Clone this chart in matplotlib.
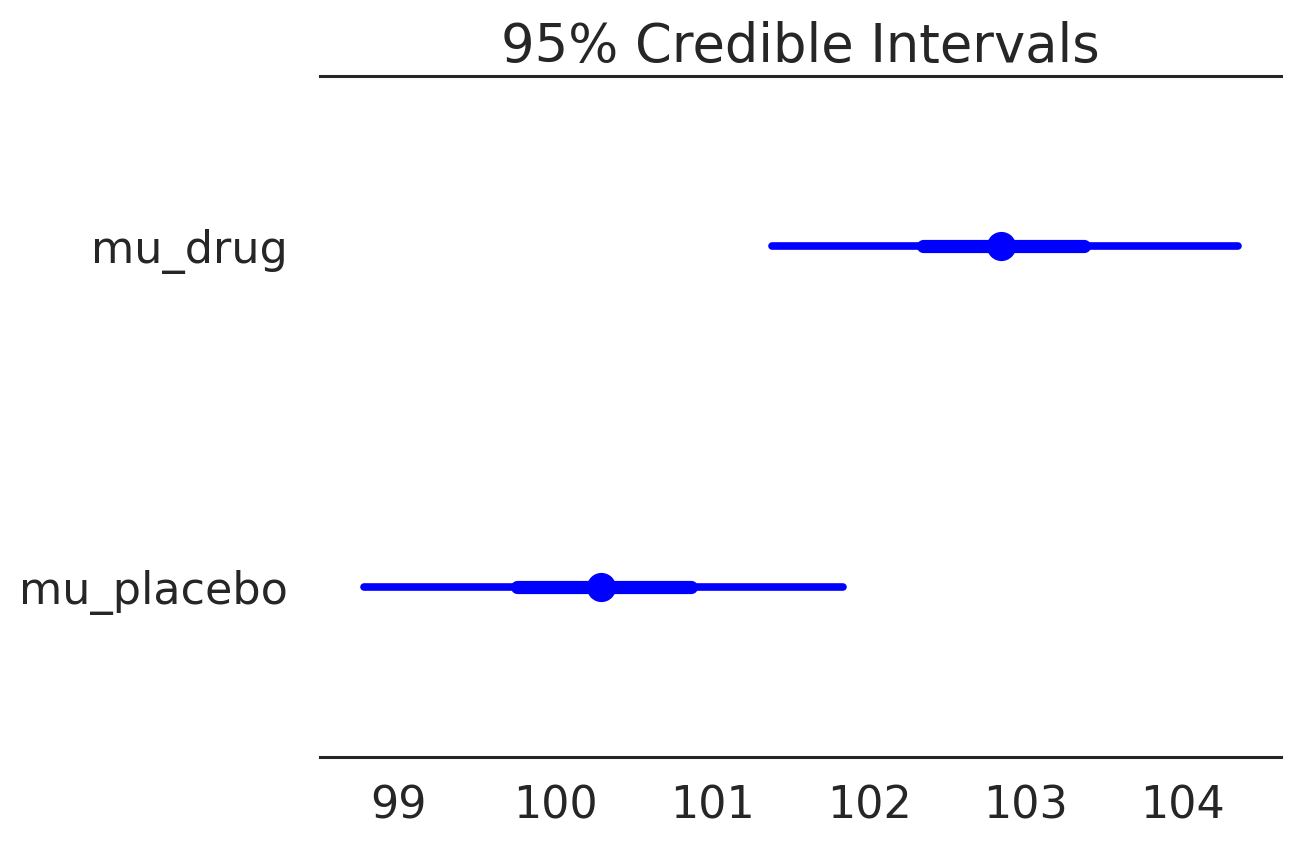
import matplotlib
matplotlib.use("Agg")
import matplotlib.pyplot as plt

labels = ["mu_placebo", "mu_drug"]
hdi95_low = [98.78, 101.38]
hdi95_high = [101.83, 104.35]
iqr_low = [99.75, 102.34]
iqr_high = [100.86, 103.37]
medians = [100.29, 102.84]
xticks = [99, 100, 101, 102, 103, 104]

fig = plt.figure(figsize=(12.99, 8.51), dpi=100)
ax = fig.add_axes([0.2463, 0.1105, 0.986 - 0.2463, 0.9107 - 0.1105])
color = "#0000ff"
for i in range(len(labels)):
    ax.plot([hdi95_low[i], hdi95_high[i]], [i, i], color=color, lw=5.5, solid_capstyle="round")
    ax.plot([iqr_low[i], iqr_high[i]], [i, i], color=color, lw=9.5, solid_capstyle="round")
    ax.plot([medians[i]], [i], "o", color=color, markersize=20)

ax.set_xlim(98.496, 104.625)
ax.set_ylim(-0.5, 1.5)
ax.set_yticks(range(len(labels)))
ax.set_yticklabels(labels)
ax.set_xticks(xticks)
ax.set_xticklabels([str(t) for t in xticks])
ax.tick_params(axis="both", length=0, labelsize=32, colors="#262626")
ax.tick_params(axis="x", pad=20)
ax.tick_params(axis="y", pad=23)
for s in ["left", "right"]:
    ax.spines[s].set_visible(False)
for s in ["top", "bottom"]:
    ax.spines[s].set_color("#262626")
    ax.spines[s].set_linewidth(2.2)
ax.set_title("95% Credible Intervals", fontsize=38, color="#262626", pad=10)
fig.savefig("out.png", dpi=100, facecolor="white")
